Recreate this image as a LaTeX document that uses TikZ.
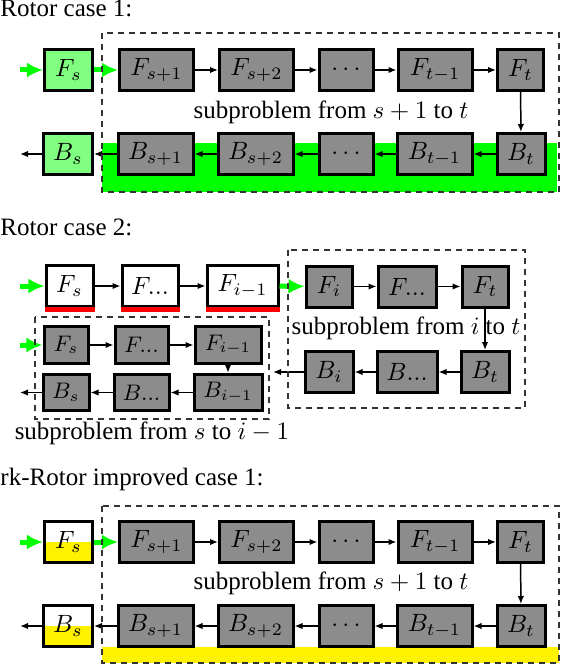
\documentclass[tikz,border=0pt]{standalone}
\usepackage[no-math]{fontspec}
\setmainfont{Liberation Serif}
\usetikzlibrary{arrows.meta}
\definecolor{boxgray}{RGB}{140,140,140}
\definecolor{litegreen}{RGB}{128,255,128}
\definecolor{brightgreen}{RGB}{0,255,0}
\definecolor{barred}{RGB}{255,0,0}
\definecolor{baryellow}{RGB}{255,242,0}

\begin{document}
\begin{tikzpicture}[x=0.4pt, y=-0.4pt,
        blk/.style={draw, very thick, fill=boxgray, inner sep=0pt, minimum height=16.4pt},
        litebox/.style={blk, fill=litegreen},
        whitebox/.style={blk, fill=white},
        halfyellow/.style={blk, fill=white,
            path picture={\fill[baryellow] (path picture bounding box.west) rectangle (path picture bounding box.south east);}},
        smallblk/.style={blk, minimum height=14.6pt, font=\small},
        arr/.style={-{Latex[length=3.2pt,width=2.6pt]}, line width=0.6pt},
        garrow/.style={-{Latex[length=6.4pt,width=6pt]}, line width=2pt, brightgreen},
        dbox/.style={dash pattern=on 2.4pt off 2pt, line width=0.6pt, draw=black!80},
        redbar/.style={line width=2pt, barred},
        title/.style={anchor=base west, inner sep=0pt}]
        \useasboundingbox (0,0) rectangle (562,666);

        % Rotor case 1
        \node[title] (title1) at (0,17) {Rotor case 1:};
        \fill[brightgreen] (102,143) rectangle (557,192);
        \node[litebox, minimum width=19.2pt] (Fs) at (68.5,70) {$F_s$};
        \node[blk, minimum width=29.6pt] (Fs1) at (156.5,70) {$F_{s+1}$};
        \node[blk, minimum width=29.6pt] (Fs2) at (256.5,70) {$F_{s+2}$};
        \node[blk, minimum width=21.6pt] (Fdots) at (346,70) {$\cdots$};
        \node[blk, minimum width=29.6pt] (Ft1) at (435,70) {$F_{t-1}$};
        \node[blk, minimum width=18.4pt] (Ft) at (520.5,70) {$F_t$};
        \node[litebox, minimum width=19.6pt] (Bs) at (68,154) {$B_s$};
        \node[blk, minimum width=30pt] (Bs1) at (155.5,154) {$B_{s+1}$};
        \node[blk, minimum width=30pt] (Bs2) at (255.5,154) {$B_{s+2}$};
        \node[blk, minimum width=21.6pt] (Bdots) at (346,154) {$\cdots$};
        \node[blk, minimum width=30pt] (Bt1) at (434.5,154) {$B_{t-1}$};
        \node[blk, minimum width=19.2pt] (Bt) at (521,154) {$B_t$};
        \node (sub1) at (331,112) {subproblem from $s+1$ to $t$};
        \coordinate (in1) at (20,70);
        \coordinate (out1) at (20,154);
        \draw[garrow] (in1) -- (Fs);
        \draw[garrow] (Fs) -- (Fs1);
        \draw[arr] (Fs1) -- (Fs2);
        \draw[arr] (Fs2) -- (Fdots);
        \draw[arr] (Fdots) -- (Ft1);
        \draw[arr] (Ft1) -- (Ft);
        \draw[arr] (Ft) -- (Bt);
        \draw[arr] (Bt) -- (Bt1);
        \draw[arr] (Bt1) -- (Bdots);
        \draw[arr] (Bdots) -- (Bs2);
        \draw[arr] (Bs2) -- (Bs1);
        \draw[arr] (Bs1) -- (Bs);
        \draw[arr] (Bs) -- (out1);
        \draw[dbox] (102,33) rectangle (559,192);

        % Rotor case 2
        \node[title] (title2) at (0,235) {Rotor case 2:};
        \node[whitebox, minimum width=18.8pt] (Gs) at (69.5,286) {$F_s$};
        \node[whitebox, minimum width=22.4pt] (Gdots) at (150,286) {$F...$};
        \node[whitebox, minimum width=28.4pt] (Gi1) at (242.5,286) {$F_{i-1}$};
        \draw[redbar] ([yshift=-0.6pt]Gs.south west) -- ([yshift=-0.6pt]Gs.south east);
        \draw[redbar] ([yshift=-0.6pt]Gdots.south west) -- ([yshift=-0.6pt]Gdots.south east);
        \draw[redbar] ([yshift=-0.6pt]Gi1.south west) -- ([yshift=-0.6pt]Gi1.south east);
        \node[blk, minimum width=18.4pt] (Fi) at (329,286.5) {$F_i$};
        \node[blk, minimum width=23.2pt] (Fmid) at (407,286.5) {$F...$};
        \node[blk, minimum width=18.4pt] (Ftr) at (485,286.5) {$F_t$};
        \node[blk, minimum width=19.2pt] (Bi) at (329,372) {$B_i$};
        \node[blk, minimum width=24pt] (Bmid) at (407,372) {$B...$};
        \node[blk, minimum width=19.2pt] (Btr) at (485,372) {$B_t$};
        \node (sub2) at (406,328) {subproblem from $i$ to $t$};
        \node[smallblk, minimum width=17.6pt] (Hs) at (66,345) {$F_s$};
        \node[smallblk, minimum width=21.2pt] (Hdots) at (141.5,345) {$F...$};
        \node[smallblk, minimum width=26.4pt] (Hi1) at (228,345) {$F_{i-1}$};
        \node[smallblk, minimum width=18.4pt] (Ks) at (66,392.5) {$B_s$};
        \node[smallblk, minimum width=22pt] (Kdots) at (141.5,392.5) {$B...$};
        \node[smallblk, minimum width=27.2pt] (Ki1) at (228,392.5) {$B_{i-1}$};
        \node (sub3) at (152,433) {subproblem from $s$ to $i-1$};
        \coordinate (in2) at (20,286);
        \coordinate (in3) at (20,345);
        \coordinate (out3) at (20,392.5);
        \coordinate (link) at (273,372);
        \draw[garrow] (in2) -- (Gs);
        \draw[arr] (Gs) -- (Gdots);
        \draw[arr] (Gdots) -- (Gi1);
        \draw[garrow] (Gi1) -- (Fi);
        \draw[arr] (Fi) -- (Fmid);
        \draw[arr] (Fmid) -- (Ftr);
        \draw[arr] (Ftr) -- (Btr);
        \draw[arr] (Btr) -- (Bmid);
        \draw[arr] (Bmid) -- (Bi);
        \draw[arr] (Bi) -- (link);
        \draw[garrow] (in3) -- (Hs);
        \draw[arr] (Hs) -- (Hdots);
        \draw[arr] (Hdots) -- (Hi1);
        \draw[arr] (Hi1) -- (Ki1);
        \draw[arr] (Ki1) -- (Kdots);
        \draw[arr] (Kdots) -- (Ks);
        \draw[arr] (Ks) -- (out3);
        \draw[dbox] (288,250) rectangle (525,408);
        \draw[dbox] (35,317) rectangle (269,419);

        % rk-Rotor improved case 1
        \node[title] (title3) at (0,485) {rk-Rotor improved case 1:};
        \fill[baryellow] (102,647) rectangle (559,663);
        \node[halfyellow, minimum width=19.2pt] (Rs) at (68.5,542) {$F_s$};
        \node[blk, minimum width=29.6pt] (Rs1) at (156.5,542) {$F_{s+1}$};
        \node[blk, minimum width=29.6pt] (Rs2) at (256.5,542) {$F_{s+2}$};
        \node[blk, minimum width=21.6pt] (Rdots) at (346,542) {$\cdots$};
        \node[blk, minimum width=29.6pt] (Rt1) at (435,542) {$F_{t-1}$};
        \node[blk, minimum width=18.4pt] (Rt) at (520.5,542) {$F_t$};
        \node[halfyellow, minimum width=19.6pt] (Ss) at (68,626) {$B_s$};
        \node[blk, minimum width=30pt] (Ss1) at (155.5,626) {$B_{s+1}$};
        \node[blk, minimum width=30pt] (Ss2) at (255.5,626) {$B_{s+2}$};
        \node[blk, minimum width=21.6pt] (Sdots) at (346,626) {$\cdots$};
        \node[blk, minimum width=30pt] (St1) at (434.5,626) {$B_{t-1}$};
        \node[blk, minimum width=19.2pt] (St) at (521,626) {$B_t$};
        \node (sub4) at (331,583) {subproblem from $s+1$ to $t$};
        \coordinate (in4) at (20,542);
        \coordinate (out4) at (20,626);
        \draw[garrow] (in4) -- (Rs);
        \draw[garrow] (Rs) -- (Rs1);
        \draw[arr] (Rs1) -- (Rs2);
        \draw[arr] (Rs2) -- (Rdots);
        \draw[arr] (Rdots) -- (Rt1);
        \draw[arr] (Rt1) -- (Rt);
        \draw[arr] (Rt) -- (St);
        \draw[arr] (St) -- (St1);
        \draw[arr] (St1) -- (Sdots);
        \draw[arr] (Sdots) -- (Ss2);
        \draw[arr] (Ss2) -- (Ss1);
        \draw[arr] (Ss1) -- (Ss);
        \draw[arr] (Ss) -- (out4);
        \draw[dbox] (102,506) rectangle (559,663);
\end{tikzpicture}
\end{document}
